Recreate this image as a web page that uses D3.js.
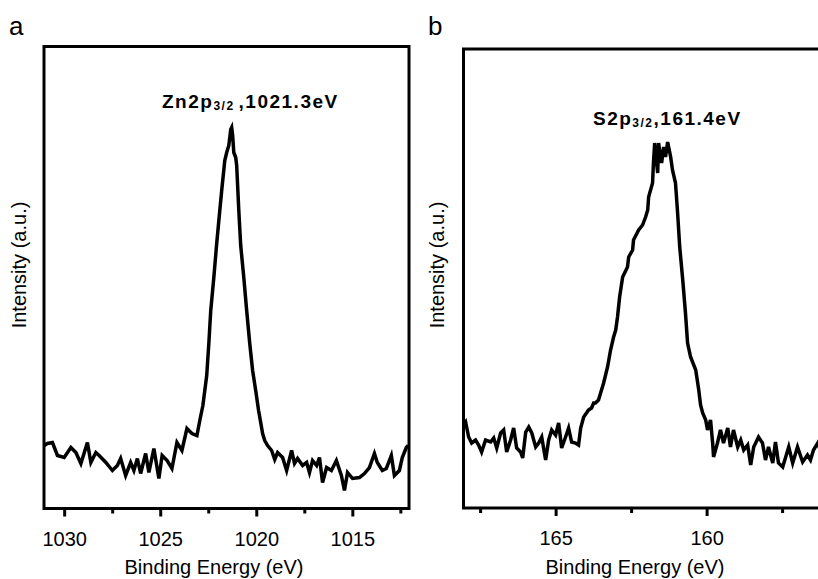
<!DOCTYPE html>
<html>
<head>
<meta charset="utf-8">
<script src="https://cdn.jsdelivr.net/npm/d3@7"></script>
<style>
  html, body { margin: 0; padding: 0; background: #fff; }
  svg { display: block; }
  text { font-family: Arial, "Liberation Sans", sans-serif; fill: #000; }
</style>
</head>
<body>
<svg id="chart" width="818" height="579"></svg>
<script>
// ---------- Data: panel a (Zn 2p3/2) ----------
const znEnergy = [1031.04,1030.87,1030.61,1030.35,1030.00,1029.65,1029.39,1029.13,1028.79,1028.61,
  1028.35,1028.18,1027.83,1027.49,1027.23,1027.06,1026.80,1026.54,1026.37,1026.19,
  1026.02,1025.76,1025.59,1025.33,1025.07,1024.90,1024.64,1024.39,1024.13,1023.87,
  1023.61,1023.35,1023.09,1022.94,1022.78,1022.68,1022.58,1022.47,1022.37,1022.21,
  1022.06,1021.90,1021.80,1021.64,1021.54,1021.43,1021.33,1021.28,1021.23,1021.17,
  1021.07,1021.02,1020.91,1020.81,1020.65,1020.50,1020.34,1020.19,1020.03,1019.88,
  1019.77,1019.67,1019.56,1019.41,1019.20,1019.04,1018.89,1018.63,1018.42,1018.16,
  1018.01,1017.85,1017.59,1017.38,1017.23,1017.07,1016.86,1016.71,1016.55,1016.34,
  1016.09,1015.83,1015.57,1015.41,1015.25,1014.99,1014.63,1014.37,1014.11,1013.85,
  1013.70,1013.44,1013.23,1012.97,1012.81,1012.55,1012.40,1012.19,1012.09];
const znIntensity = [63,65,66,53,51,61,56,45,66,46,
  56,53,46,38,43,50,33,46,38,50,
  35,55,36,60,30,53,48,40,66,58,
  80,75,73,88,103,118,133,165,198,231,
  265,298,318,348,356,363,379,381,373,356,
  351,343,298,263,231,198,165,138,118,98,
  86,75,68,63,58,49,56,51,38,58,
  45,50,43,46,36,48,43,51,26,41,
  38,48,33,18,36,30,31,35,41,55,
  46,38,40,53,33,38,51,61,63];

// ---------- Data: panel b (S 2p3/2) ----------
const sEnergy = [168.05,167.98,167.88,167.78,167.65,167.55,167.45,167.32,167.15,167.05,
  166.95,166.82,166.72,166.62,166.49,166.39,166.29,166.16,166.09,165.99,
  165.89,165.79,165.66,165.56,165.46,165.33,165.23,165.13,165.00,164.90,
  164.80,164.67,164.57,164.47,164.34,164.24,164.17,164.07,163.91,163.81,
  163.74,163.68,163.58,163.51,163.41,163.28,163.18,163.08,163.01,162.95,
  162.88,162.78,162.62,162.58,162.45,162.42,162.25,162.12,162.02,161.95,
  161.92,161.79,161.76,161.72,161.62,161.59,161.49,161.42,161.36,161.29,
  161.19,161.13,161.03,160.96,160.89,160.79,160.70,160.63,160.53,160.36,
  160.26,160.20,160.13,160.03,159.97,159.87,159.80,159.77,159.64,159.54,
  159.44,159.30,159.21,159.11,158.97,158.87,158.77,158.64,158.54,158.44,
  158.28,158.15,158.05,157.95,157.81,157.72,157.62,157.48,157.38,157.28,
  157.15,156.99,156.82,156.66,156.56,156.46,156.32,156.20,156.05];
const sIntensity = [83,86,71,65,68,63,56,68,66,70,
  60,75,78,56,68,80,60,56,50,76,
  81,75,61,65,71,48,68,78,73,85,
  60,71,80,66,65,63,80,91,98,100,
  105,105,108,115,125,141,158,171,178,191,
  211,231,241,251,258,268,278,283,291,298,
  311,325,345,365,335,365,345,361,351,366,
  351,338,325,295,261,228,195,165,151,138,
  118,103,95,88,78,88,65,51,65,78,
  65,80,61,78,61,68,58,63,43,61,
  71,65,48,61,45,66,45,41,51,61,
  45,61,46,53,48,58,65,55,60];

// ---------- Axis ticks and labels ----------
const znMajorTicks = [1030, 1025, 1020, 1015];
const znMinorTicks = [1027.5, 1022.5, 1017.5, 1012.5];
const sMajorTicks = [165, 160];
const sMinorTicks = [167.5, 162.5, 157.5];

const panels = [
  { letter: "a", energy: znEnergy, intensity: znIntensity,
    xDomain: [1031.05, 1012.05], yDomain: [0, 462],
    box: { left: 44, right: 409, top: 46.5, bottom: 508.5 },
    major: znMajorTicks, minor: znMinorTicks,
    label: { main: "Zn2p", sub: "3/2", rest: ",1021.3eV", x: 162, y: 108, gap: 4 },
    letterPos: [9, 35], yTitleX: 26, xTitleX: 214 },
  { letter: "b", energy: sEnergy, intensity: sIntensity,
    xDomain: [168.05, 156.0], yDomain: [0, 459],
    box: { left: 463.5, right: 827.4, top: 49, bottom: 508 },
    major: sMajorTicks, minor: sMinorTicks,
    label: { main: "S2p", sub: "3/2", rest: ",161.4eV", x: 593, y: 125, gap: 0 },
    letterPos: [428, 35], yTitleX: 444, xTitleX: 635 }
];

const svg = d3.select("#chart");

panels.forEach((p, i) => {
  const b = p.box;
  const x = d3.scaleLinear().domain(p.xDomain).range([b.left, b.right]);
  const y = d3.scaleLinear().domain(p.yDomain).range([b.bottom, b.top]);
  const g = svg.append("g");

  const clipId = "clip" + i;
  svg.append("defs").append("clipPath").attr("id", clipId)
    .append("rect").attr("x", b.left).attr("y", b.top)
    .attr("width", b.right - b.left).attr("height", b.bottom - b.top);

  // spectrum
  const pts = p.energy.map((e, k) => [e, p.intensity[k]]);
  const line = d3.line().x(d => x(d[0])).y(d => y(d[1]));
  g.append("path").datum(pts)
    .attr("clip-path", `url(#${clipId})`)
    .attr("d", line)
    .attr("fill", "none").attr("stroke", "#000")
    .attr("stroke-width", 3.5).attr("stroke-linejoin", "miter");

  // frame
  g.append("rect")
    .attr("x", b.left).attr("y", b.top)
    .attr("width", b.right - b.left).attr("height", b.bottom - b.top)
    .attr("fill", "none").attr("stroke", "#000").attr("stroke-width", 3);

  // bottom axis: major ticks with labels
  const axMajor = d3.axisBottom(x).tickValues(p.major).tickSize(8).tickPadding(15)
    .tickFormat(d3.format("d"));
  const gMaj = g.append("g").attr("transform", `translate(0,${b.bottom})`).call(axMajor);
  gMaj.select(".domain").remove();
  gMaj.selectAll(".tick line").attr("stroke", "#000").attr("stroke-width", 3);
  gMaj.selectAll(".tick text").attr("font-size", 20)
    .attr("font-family", "Arial, 'Liberation Sans', sans-serif").attr("fill", "#000");

  // minor ticks
  const axMinor = d3.axisBottom(x).tickValues(p.minor).tickSize(5).tickFormat("");
  const gMin = g.append("g").attr("transform", `translate(0,${b.bottom})`).call(axMinor);
  gMin.select(".domain").remove();
  gMin.selectAll(".tick line").attr("stroke", "#000").attr("stroke-width", 3);

  // axis titles
  g.append("text").attr("x", p.xTitleX).attr("y", 574)
    .attr("text-anchor", "middle").attr("font-size", 20)
    .text("Binding Energy (eV)");
  g.append("text")
    .attr("transform", `translate(${p.yTitleX},265) rotate(-90)`)
    .attr("text-anchor", "middle").attr("font-size", 20)
    .text("Intensity (a.u.)");

  // panel letter
  g.append("text").attr("x", p.letterPos[0]).attr("y", p.letterPos[1])
    .attr("font-size", 26).text(p.letter);

  // peak annotation
  const t = g.append("text").attr("x", p.label.x).attr("y", p.label.y)
    .attr("font-size", 19).attr("font-weight", "bold").attr("letter-spacing", "1.5px");
  t.append("tspan").text(p.label.main);
  t.append("tspan").attr("font-size", 12).attr("dy", 2).text(p.label.sub);
  t.append("tspan").attr("dy", -2).attr("dx", p.label.gap).text(p.label.rest);
});
</script>
</body>
</html>
